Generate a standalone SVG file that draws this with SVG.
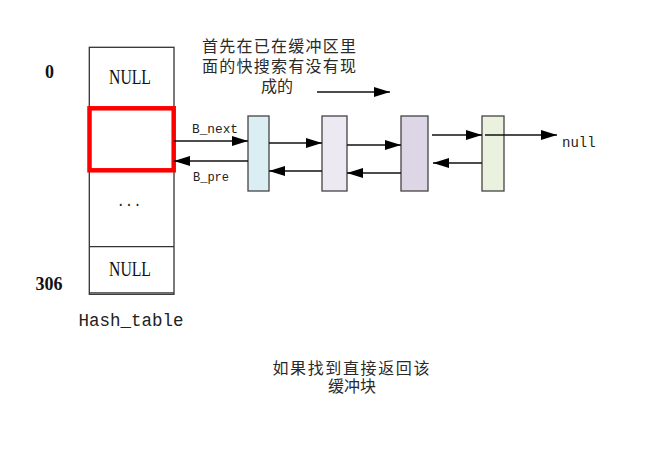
<svg xmlns="http://www.w3.org/2000/svg" width="667" height="472" viewBox="0 0 667 472">
<style>
.cjk{font-family:"Noto Sans CJK SC","Noto Sans",sans-serif;font-size:16px;fill:#2a2a2a;text-anchor:middle}
.mono{font-family:"Liberation Mono","DejaVu Sans Mono",monospace;fill:#222}
.serif{font-family:"Liberation Serif",serif;fill:#111}
.cell{fill:none;stroke:#333;stroke-width:1.3}
.node{stroke:#444;stroke-width:1.3}
.ln{stroke:#111;stroke-width:1.3;fill:none;marker-end:url(#ah)}
</style>
<defs>
<marker id="ah" viewBox="0 0 16 10" refX="16" refY="5" markerWidth="16" markerHeight="10" markerUnits="userSpaceOnUse" orient="auto">
<path d="M0,0 L16,5 L0,10 Z" fill="#000"/>
</marker>
</defs>
<rect width="667" height="472" fill="#fff"/>
<g id="hash_table">
<rect class="cell" x="89.3" y="47.3" width="84.7" height="247"/>
<line class="cell" x1="89.3" y1="108" x2="174" y2="108"/>
<line class="cell" x1="89.3" y1="170" x2="174" y2="170"/>
<line class="cell" x1="89.3" y1="246.7" x2="174" y2="246.7"/>
<line class="cell" x1="89.3" y1="292.8" x2="174" y2="292.8"/>
<text class="serif" x="130" y="84" font-size="20" text-anchor="middle" textLength="42" lengthAdjust="spacingAndGlyphs">NULL</text>
<text class="mono" x="129" y="206" font-size="14" text-anchor="middle">...</text>
<text class="serif" x="130" y="276" font-size="20" text-anchor="middle" textLength="42" lengthAdjust="spacingAndGlyphs">NULL</text>
<text class="serif" x="49.5" y="78" font-size="18" font-weight="bold" text-anchor="middle">0</text>
<text class="serif" x="49" y="290" font-size="18" font-weight="bold" text-anchor="middle">306</text>
<text class="mono" x="131" y="326" font-size="17.5" text-anchor="middle">Hash_table</text>
</g>
<g id="selected_bucket">
<rect x="89.5" y="108.3" width="84.2" height="62" fill="none" stroke="#ff0000" stroke-width="4.5"/>
</g>
<g id="buf1"><rect class="node" x="248" y="116" width="21" height="75" fill="#daeef3"/></g>
<g id="buf2"><rect class="node" x="322" y="116" width="25" height="75" fill="#ece9f3"/></g>
<g id="buf3"><rect class="node" x="401" y="116" width="27" height="75" fill="#dcd6e6"/></g>
<g id="buf4"><rect class="node" x="482" y="116" width="22" height="75" fill="#eaf1de"/></g>
<g id="connectors">
<line class="ln" x1="174" y1="141" x2="248" y2="141"/>
<line class="ln" x1="248" y1="161" x2="174" y2="161"/>
<line class="ln" x1="269" y1="143" x2="322" y2="143"/>
<line class="ln" x1="322" y1="171" x2="269" y2="171"/>
<line class="ln" x1="347" y1="145" x2="401" y2="145"/>
<line class="ln" x1="401" y1="173" x2="347" y2="173"/>
<line class="ln" x1="432" y1="135" x2="482" y2="135"/>
<line class="ln" x1="482" y1="163" x2="433" y2="163"/>
<line class="ln" x1="485" y1="135" x2="557" y2="135"/>
<line class="ln" x1="317" y1="92" x2="390" y2="92"/>
<text class="mono" x="215" y="133" font-size="12.8" text-anchor="middle">B_next</text>
<text class="mono" x="211" y="181" font-size="12" text-anchor="middle">B_pre</text>
<text class="mono" x="562" y="147" font-size="14">null</text>
</g>
<g id="notes">
<text class="cjk"><tspan x="279" y="52" textLength="154" lengthAdjust="spacing">首先在已在缓冲区里</tspan><tspan x="279" y="72" textLength="154" lengthAdjust="spacing">面的快搜索有没有现</tspan><tspan x="277" y="92">成的</tspan></text>
<text class="cjk"><tspan x="351" y="374" textLength="157" lengthAdjust="spacing">如果找到直接返回该</tspan><tspan x="352" y="392">缓冲块</tspan></text>
</g>
</svg>
